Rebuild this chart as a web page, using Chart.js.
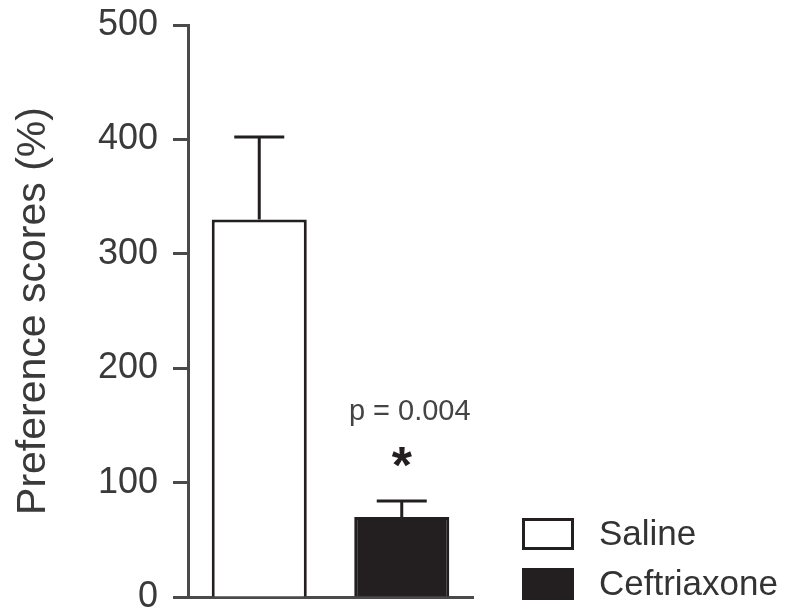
<!DOCTYPE html>
<html>
<head>
<meta charset="utf-8">
<script src="https://cdn.jsdelivr.net/npm/chart.js@4"></script>
<style>
  html, body { margin: 0; padding: 0; background: #fff; }
  #wrap { width: 791px; height: 616px; }
</style>
</head>
<body>
<div id="wrap"><canvas id="prefChart" width="791" height="616"></canvas></div>
<script>
const groups = ['Saline', 'Ceftriaxone'];
const meanScores = [330, 70];
const semScores = [72, 14];
const barColors = ['#ffffff', '#231f20'];
const yTicks = [0, 100, 200, 300, 400, 500];
const pLabel = 'p = 0.004';

const ink = '#231f20';
const axisGrey = '#4a4a4a';
const fontFamily = '"Liberation Sans", Arial, Helvetica, sans-serif';

// error bars + significance marks, drawn through the chart's own scales
const errorBarPlugin = {
  id: 'errorBars',
  afterDatasetsDraw(chart) {
    const ctx = chart.ctx;
    const x = chart.scales.x;
    const y = chart.scales.y;
    ctx.save();
    ctx.strokeStyle = ink;
    ctx.lineWidth = 3;
    meanScores.forEach((m, i) => {
      const cx = x.getPixelForValue(i);
      const yTop = y.getPixelForValue(m + semScores[i]);
      const yBar = y.getPixelForValue(m);
      ctx.beginPath();
      ctx.moveTo(cx, yBar);
      ctx.lineTo(cx, yTop);
      ctx.moveTo(cx - 25, yTop);
      ctx.lineTo(cx + 25, yTop);
      ctx.stroke();
    });
    // p value and asterisk over the second bar
    const cx = x.getPixelForValue(1);
    const errTop = y.getPixelForValue(meanScores[1] + semScores[1]);
    ctx.fillStyle = '#444';
    ctx.textAlign = 'center';
    ctx.textBaseline = 'middle';
    ctx.font = '29px ' + fontFamily;
    ctx.fillText(pLabel, cx + 8, errTop - 89);
    ctx.fillStyle = ink;
    ctx.font = 'bold 52px ' + fontFamily;
    ctx.fillText('*', cx, errTop - 32);
    ctx.restore();
  }
};

// legend in the lower right corner
const sideLegendPlugin = {
  id: 'sideLegend',
  afterDraw(chart) {
    const ctx = chart.ctx;
    const area = chart.chartArea;
    const left = area.right + 49;
    ctx.save();
    ctx.font = '35px ' + fontFamily;
    ctx.textBaseline = 'middle';
    ctx.textAlign = 'left';
    groups.forEach((g, i) => {
      const top = area.bottom - 79 + i * 50;
      ctx.fillStyle = barColors[i];
      ctx.fillRect(left, top, 52, 32);
      ctx.strokeStyle = ink;
      ctx.lineWidth = 3;
      ctx.strokeRect(left + 1.5, top + 1.5, 49, 29);
      ctx.fillStyle = '#333';
      ctx.fillText(g, left + 77, top + 17);
    });
    ctx.restore();
  }
};

new Chart(document.getElementById('prefChart'), {
  type: 'bar',
  data: {
    labels: groups,
    datasets: [{
      data: meanScores,
      backgroundColor: barColors,
      borderColor: ink,
      borderWidth: 3,
      barPercentage: 0.667,
      categoryPercentage: 1
    }]
  },
  options: {
    responsive: false,
    animation: false,
    devicePixelRatio: 1,
    layout: {
      padding: { left: 0, top: 25, right: 318, bottom: 19 }
    },
    plugins: {
      legend: { display: false },
      tooltip: { enabled: false }
    },
    scales: {
      x: {
        grid: { display: false },
        border: { display: true, color: axisGrey, width: 3 },
        ticks: { display: false },
        afterFit: (s) => { s.height = 0; }
      },
      y: {
        min: 0,
        max: 500,
        afterBuildTicks: (s) => { s.ticks = yTicks.map(v => ({ value: v })); },
        afterFit: (s) => {
          s.width = 188;
          // keep the plot box where the layout padding puts it
          s.paddingTop = 0;
          s.paddingBottom = 0;
        },
        border: { display: true, color: axisGrey, width: 3 },
        grid: {
          drawOnChartArea: false,
          drawTicks: true,
          tickLength: 15,
          tickWidth: 3,
          tickColor: axisGrey
        },
        ticks: {
          padding: 15,
          color: '#3a3a3a',
          font: { family: fontFamily, size: 36, lineHeight: 1 }
        },
        title: {
          display: true,
          text: 'Preference scores (%)',
          color: '#3a3a3a',
          padding: { top: 9, bottom: 0 },
          font: { family: fontFamily, size: 41 }
        }
      }
    }
  },
  plugins: [errorBarPlugin, sideLegendPlugin]
});
</script>
</body>
</html>
